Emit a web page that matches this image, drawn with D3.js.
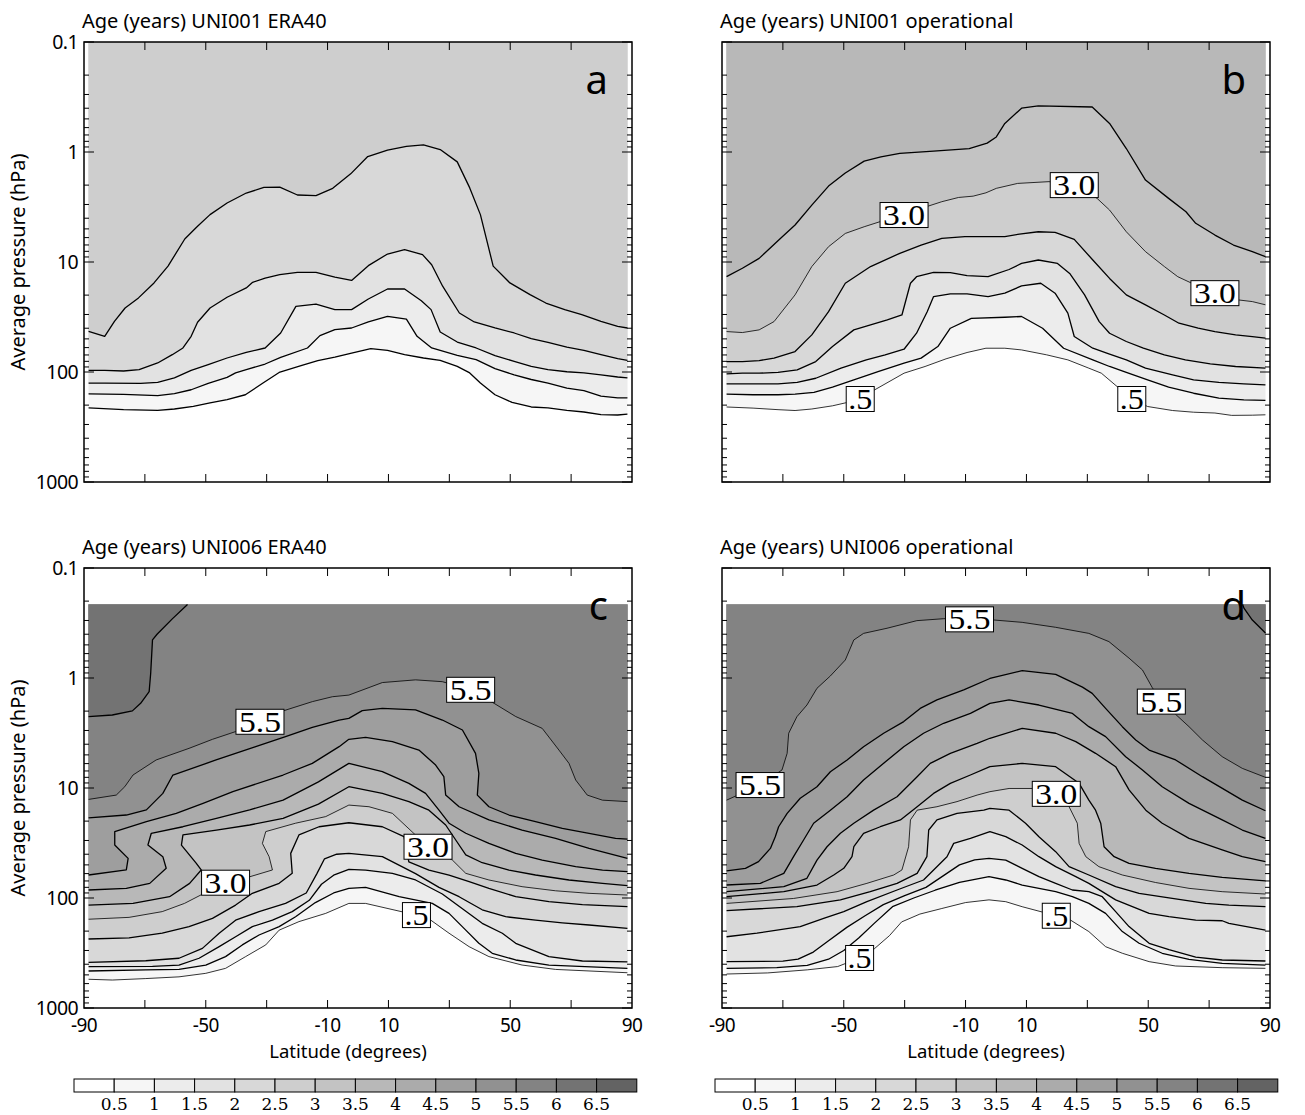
<!DOCTYPE html>
<html>
<head>
<meta charset="utf-8">
<script src="https://cdn.jsdelivr.net/npm/d3@7"></script>
<style>
  body { margin: 0; background: #fff; }
  svg { display: block; }
</style>
</head>
<body>
<div id="chart"></div>
<script>
// grey shades of the 14 colour-bar boxes (<0.5 ... >6.5 years)
const COLORS = ['#ffffff','#f6f6f6','#ececec','#e2e2e2','#d8d8d8','#cecece','#c3c3c3',
                '#b8b8b8','#ababab','#9e9e9e','#919191','#838383','#737373','#636363'];
const CB_LABELS = ['0.5','1','1.5','2','2.5','3','3.5','4','4.5','5','5.5','6','6.5'];
const Y_TICKS = [0.1, 1, 10, 100, 1000];
const Y_LABELS = ['0.1', '1', '10', '100', '1000'];
const X_TICKS = [-70, -50, -30, -10, 10, 30, 50, 70];
const X_LABELS = [-90, -50, -10, 10, 50, 90];

// contour lines, [latitude, pressure hPa]
// panel a: UNI001 ERA40
const a05 = [[-88.5,212],[-77.0,220],[-65.8,223],[-60.3,217],[-54.1,205],[-48.6,191],[-43.0,178],[-37.0,161],[-31.2,126],[-25.9,101],[-18.7,87.5],[-13.2,78.9],[-7.6,73.1],[-2.1,67.2],[4.2,61.4],[9.7,63.5],[15.3,69.6],[21.5,74.6],[27.0,78.3],[32.6,88.8],[36.7,102],[40.2,126],[45.0,161],[50.6,189],[56.9,208],[62.4,212],[68.6,223],[74.2,231],[79.8,244],[85.3,246],[88.5,242]];
const a10 = [[-88.5,158],[-77.0,160],[-65.8,164],[-60.3,157],[-54.8,145],[-49.2,127],[-43.0,112],[-40.2,102],[-36.7,95.3],[-30.5,84.6],[-25.4,73.6],[-16.6,60.5],[-12.5,46.7],[-7.6,41.2],[-2.1,39.8],[3.4,35.1],[9.7,31.2],[15.9,33.0],[19.4,47.4],[24.2,60.5],[32.6,70.5],[38.8,77.2],[45.0,93.3],[51.3,106],[56.9,117],[62.4,126],[68.6,140],[74.2,148],[79.8,166],[85.3,172],[88.5,172]];
const a15 = [[-88.5,126],[-83.2,126],[-71.4,127],[-65.8,124],[-60.3,113],[-54.8,96.6],[-49.2,85.8],[-43.0,74.6],[-36.7,66.3],[-30.5,60.5],[-25.4,44.2],[-20.4,25.3],[-13.8,24.1],[-7.6,27.1],[-2.1,27.1],[3.4,21.7],[9.7,17.6],[15.3,17.6],[20.8,22.5],[24.0,27.1],[27.0,43.3],[32.6,53.4],[38.8,60.5],[45.0,71.1],[51.3,80.0],[56.9,88.8],[62.4,95.3],[68.6,99.5],[74.2,102],[79.8,106],[85.3,111],[88.5,113]];
const a20 = [[-88.5,96.6],[-83.2,96.6],[-77.0,97.9],[-71.9,95.3],[-65.8,82.8],[-61.0,69.6],[-57.5,60.5],[-54.8,47.4],[-52.7,35.3],[-48.6,26.2],[-43.0,20.9],[-36.7,17.2],[-34.6,15.3],[-30.5,14.0],[-25.7,13.0],[-19.9,12.4],[-13.8,12.4],[-7.6,13.7],[-2.1,14.7],[3.4,10.8],[9.7,8.46],[15.3,7.72],[21.2,8.58],[24.2,10.6],[27.8,16.6],[33.3,29.1],[38.2,35.1],[45.0,39.8],[51.3,44.2],[56.9,49.8],[62.4,53.7],[68.6,59.3],[74.2,63.5],[79.8,69.6],[85.3,75.6],[88.5,78.3]];
const a25 = [[-88.5,42.7],[-83.2,47.4],[-80.0,34.6],[-76.5,26.2],[-72.1,21.2],[-67.0,15.5],[-62.4,10.9],[-56.9,6.18],[-52.7,4.74],[-48.6,3.71],[-43.0,2.91],[-36.7,2.36],[-30.9,2.10],[-25.7,2.09],[-19.9,2.46],[-13.8,2.49],[-8.3,2.14],[-2.4,1.58],[3.2,1.10],[9.7,0.96],[15.9,0.89],[21.5,0.86],[27.0,0.95],[32.6,1.23],[36.7,2.12],[40.2,3.71],[44.4,10.9],[49.9,15.5],[56.5,19.8],[61.7,23.6],[67.9,27.1],[73.5,30.1],[79.8,34.6],[85.3,38.5],[88.5,39.8]];

// panel b: UNI001 operational
const b05 = [[-88.5,208],[-79.8,213],[-71.6,220],[-66.0,224],[-60.5,217],[-53.7,203],[-48.8,189],[-44.6,176],[-39.8,145],[-30.2,102.5],[-23.3,89.1],[-16.4,75.9],[-9.5,66.5],[-3.3,60.8],[2.9,60.8],[8.4,63.0],[16.6,69.8],[23.6,77.6],[30.5,92.3],[34.6,102.5],[44.6,176],[49.8,206],[58.0,224],[64.9,232],[71.9,236],[77.4,248],[84.2,247],[88.5,245]];
const b10 = [[-88.5,159],[-79.8,161],[-71.6,161],[-66.0,159],[-59.8,153],[-53.7,137],[-46.7,118],[-38.5,98.9],[-30.2,83.2],[-24.6,74.8],[-19.1,58.7],[-15.0,40.0],[-8.1,32.5],[2.9,31.8],[8.4,31.3],[15.3,40.0],[22.2,60.8],[31.8,77.6],[37.3,89.1],[42.8,101],[49.8,118],[56.7,137],[64.9,156],[73.2,173],[81.4,179],[88.5,181]];
const b15 = [[-88.5,128],[-79.8,128],[-71.6,128],[-65.3,124],[-59.2,114],[-50.9,92.3],[-42.6,77.6],[-36.4,69.8],[-30.2,62.1],[-26.1,44.4],[-22.6,28.3],[-20.5,20.6],[-15.0,19.5],[-9.5,19.5],[-2.6,20.6],[2.9,19.2],[8.4,16.5],[14.7,15.6],[19.4,19.2],[23.6,29.2],[25.7,47.6],[31.8,60.8],[37.3,68.9],[42.8,77.6],[49.1,92.3],[58.0,106],[64.9,118],[73.2,124],[81.4,128],[88.5,131]];
const b20 = [[-88.5,104],[-83.3,102.5],[-77.8,102.5],[-71.6,101],[-65.3,95.5],[-59.2,80.4],[-53.7,58.7],[-46.7,41.4],[-41.2,37.3],[-35.7,33.6],[-30.9,30.3],[-28.1,15.6],[-26.1,13.6],[-20.5,12.4],[-15.0,12.5],[-9.5,13.3],[-2.6,13.6],[4.3,11.7],[8.4,10.3],[13.9,9.59],[20.2,10.3],[24.2,12.7],[29.1,19.9],[33.9,34.8],[37.3,44.4],[42.8,52.8],[48.4,60.8],[55.3,69.8],[62.2,77.6],[70.4,84.3],[78.7,89.1],[88.5,92.3]];
const b25 = [[-88.5,80.4],[-83.3,80.4],[-77.8,78.7],[-72.9,74.8],[-66.0,65.2],[-60.5,46.0],[-55.0,28.3],[-49.5,15.6],[-41.2,11.0],[-31.6,8.34],[-24.6,7.01],[-17.8,6.10],[-10.2,5.89],[2.9,5.89],[7.7,5.57],[13.9,5.31],[19.4,5.38],[25.7,6.23],[31.8,9.59],[37.3,14.1],[42.8,19.9],[49.1,24.5],[55.3,30.3],[60.1,36.0],[66.4,40.0],[71.9,42.9],[78.7,46.0],[84.2,47.6],[88.5,49.3]];
const b30 = [[-88.5,42.9],[-83.3,43.8],[-77.8,41.4],[-72.9,34.8],[-66.0,19.9],[-60.5,11.0],[-55.0,7.26],[-49.5,5.5],[-43.3,4.78],[-38.1,4.30],[-30.2,3.74],[-22.2,3.10],[-17.8,2.83],[-12.3,2.59],[-7.5,2.52],[-3.3,2.35],[0.1,2.14],[7.1,1.93],[17.4,1.86],[25.7,2.0],[33.2,2.64],[37.3,3.37],[42.8,5.31],[49.1,8.05],[55.3,11.0],[59.7,13.6],[64.3,15.6],[71.9,19.2],[79.5,22.1],[84.2,22.9],[88.5,24.5]];
const b35 = [[-88.5,13.6],[-83.3,11.4],[-77.8,9.27],[-70.2,5.89],[-66.0,4.61],[-60.5,3.04],[-55.0,2.04],[-49.5,1.55],[-43.3,1.21],[-37.8,1.11],[-31.6,1.03],[-20.5,0.98],[-8.8,0.93],[-2.9,0.83],[0.1,0.73],[2.9,0.55],[8.4,0.40],[13.9,0.38],[31.6,0.39],[37.3,0.55],[42.8,0.93],[49.1,1.80],[56.7,2.64],[62.4,3.49],[65.6,4.45],[71.9,5.69],[78.0,7.01],[84.2,8.05],[88.5,8.95]];

// panel c: UNI006 ERA40
const c05 = [[-88.5,548],[-80.7,557],[-69.7,540],[-58.8,521],[-50,484],[-43.5,436],[-36.9,341],[-30.3,267],[-25.9,196],[-19.4,164],[-10.6,138],[-3,112],[2.5,112],[19.2,143],[23.9,159],[29.9,209],[36.5,277],[43.0,341],[53.9,407],[64.9,446],[88.5,478]];
const c10 = [[-88.5,461],[-69.7,451],[-58.8,446],[-50,407],[-43.5,341],[-38,267],[-32.5,217],[-25.9,182],[-20.5,148],[-14,110],[-8,90],[-3,81.7],[2.5,80.0],[13.5,97.3],[24.4,112],[29.9,138],[35.4,196],[39.7,258],[44.1,318],[51.8,366],[62.7,407],[88.5,436]];
const c15 = [[-88.5,421],[-67.5,418],[-58.8,407],[-52.2,353],[-45.6,277],[-40.2,225],[-34.7,182],[-28.1,159],[-21.6,133],[-16,105],[-12,75],[-8,62],[-3,54.9],[2.5,55.7],[11.3,59.7],[18.9,68.6],[27.7,92],[34.3,125],[40.8,170],[47.4,209],[51.8,258],[62.7,341],[73.7,374],[88.5,380]];
const c20 = [[-88.5,384],[-69.7,372],[-58.8,353],[-51.1,287],[-45.6,209],[-40.2,159],[-32.5,133],[-23.8,112],[-17,90],[-13.5,60],[-11,44],[-7,40],[-3,39.3],[8.0,42.1],[18.9,60],[26.6,80],[33.2,97.3],[40.8,128],[48.5,148],[58.3,159],[67.1,168],[75.9,176],[88.5,189]];
const c25 = [[-88.5,236],[-75.2,230],[-64.3,209],[-55.5,182],[-47.8,153],[-40.2,116],[-34.7,90.7],[-25.9,73.6],[-21.6,59.7],[-22.1,39.3],[-19.4,26.7],[-12.8,22.5],[-3.0,20.7],[8.0,22.5],[15.1,27.7],[16.7,47],[23.3,55.7],[29.9,61.8],[36.5,71],[43.0,81.7],[51.8,97.3],[62.7,108],[73.7,115],[88.5,120]];
const c30 = [[-88.5,156],[-75.2,150],[-64.3,133],[-57,112],[-51,92],[-43.5,72.6],[-35.8,64.4],[-28.1,55.6],[-29.2,42.1],[-31.4,31.9],[-30.3,24.9],[-20.5,20.9],[-10.6,18.2],[-3.0,14.3],[3.6,14.8],[11.3,17.0],[23.0,34.2],[31.0,45.2],[35.4,59.7],[43.0,68.6],[53.9,78.9],[64.9,86],[75.9,90.7],[88.5,94.0]];
const c35 = [[-88.5,116],[-73.9,112],[-61.9,97.3],[-55.3,73.6],[-51.5,55.6],[-53.1,48.4],[-58.0,33.0],[-57.5,26.7],[-46.5,24.1],[-35.6,21.7],[-24.6,18.9],[-13,14],[-3.0,9.73],[8.0,11.2],[16.7,13.3],[23.3,15.9],[28.8,21.7],[32.1,29.7],[35.4,40.6],[40.8,47.8],[49.6,55.7],[58.3,61.8],[69.3,68.6],[80.3,73.6],[88.5,77.2]];
const c40 = [[-88.5,84.6],[-76.1,81.7],[-68.4,73.6],[-63.0,53.7],[-64.1,42.1],[-69.0,33.0],[-67.9,25.8],[-57.5,22.5],[-46.5,18.9],[-35.6,15.8],[-24.6,12.9],[-13,8.8],[-3.0,5.97],[8.0,7.10],[16.7,9.07],[22.2,11.2],[26.6,15.9],[29.9,20.9],[35.4,25.8],[43.0,31.9],[51.8,39.3],[60.5,45.2],[71.5,51.9],[80.3,55.7],[88.5,57.6]];
const c45 = [[-88.5,61.8],[-76.1,55.6],[-75.5,43.6],[-79.9,33.0],[-79.9,24.9],[-69.5,20.2],[-59.7,17.0],[-50.9,13.8],[-41.1,10.8],[-24.6,7.62],[-15.0,5.97],[-6.2,4.21],[-3.0,3.61],[2.5,3.46],[11.3,3.79],[20.0,4.52],[25.5,6.18],[28.2,7.89],[28.8,11.6],[33.2,14.8],[43.0,19.5],[53.9,24.1],[64.9,28.7],[75.9,35.4],[88.5,43.6]];
const c50 = [[-88.5,18.7],[-76.1,17.6],[-69.5,15.8],[-64.1,11.2],[-60.8,7.62],[-46.6,5.56],[-33.6,4.21],[-23.8,3.41],[-15.0,2.81],[-6.2,2.41],[-3.0,2.33],[1.4,1.98],[8.0,1.89],[18.9,1.95],[27.7,2.41],[34.3,2.97],[38.6,4.84],[39.7,7.36],[39.2,11.6],[43.0,14.8],[49.6,17.6],[58.3,20.2],[67.1,23.3],[75.9,25.8],[84.6,28.7],[88.5,29.1]];
const c55 = [[-88.5,12.7],[-79.4,11.6],[-76.6,9.73],[-73.9,7.62],[-66.3,5.56],[-55.5,4.36],[-47.8,3.61],[-40.2,3.07],[-32.2,2.50],[-24.3,1.98],[-15.0,1.64],[-8.4,1.48],[-3.0,1.43],[8.0,1.10],[18.9,1.04],[27.7,1.08],[37.0,1.28],[44.7,1.70],[51.8,2.24],[60.5,2.87],[66.0,4.52],[69.3,5.97],[71.5,8.46],[75.3,11.6],[80.3,12.9],[88.5,13.3]];
const c60 = [[-88.5,2.24],[-80.7,2.17],[-74.1,1.99],[-71.4,1.70],[-68.6,1.33],[-68.1,0.91],[-67.5,0.45],[-66,0.40],[-61,0.29],[-56,0.215]];

// panel d: UNI006 operational
const d05 = [[-88.5,491],[-75,480],[-62,450],[-52,420],[-44.8,351],[-40,290],[-35,220],[-31,165],[-25,140],[-18,125],[-10,110],[-2.3,104],[3.2,108],[8.6,120],[19.8,145],[24.5,159],[30.5,202],[36.0,277],[41.5,318],[50.3,379],[59.0,415],[74.3,430],[88.5,436]];
const d10 = [[-88.5,436],[-72,430],[-62,410],[-55,360],[-50,300],[-45,230],[-40,170],[-34,120],[-27,100],[-20,85],[-12,72],[-2.3,64],[3.2,68.6],[8.6,76.2],[19.6,87.6],[25.1,97.3],[30.5,112],[36.0,138],[41.5,202],[47.0,258],[54.6,318],[63.4,361],[74.3,393],[88.5,407]];
const d15 = [[-88.5,379],[-70,375],[-65,360],[-60,310],[-55,245],[-49,185],[-43,145],[-37,115],[-30,95],[-23,80],[-17,62],[-12,50],[-7,45],[-2.3,43.6],[3.2,45.2],[8.6,53.7],[14.1,64.0],[19.6,73.6],[25.1,84.6],[30.5,87.6],[34.9,97.3],[39.3,133],[43.7,182],[50.3,258],[56.8,295],[65.6,345],[74.3,366],[88.5,374]];
const d20 = [[-88.5,225],[-78.5,209],[-64.3,182],[-56.6,153],[-50.0,133],[-42.4,108],[-32.5,84.6],[-23.8,68.6],[-16.1,42.1],[-13.9,31.9],[-8.4,28.7],[-2.0,24.9],[3.2,27.7],[8.6,33.0],[14.1,42.1],[19.6,51.9],[26.2,64.0],[30.5,73.6],[39.3,104],[44.8,120],[50.3,138],[56.8,148],[65.6,159],[74.3,161],[76.5,170],[88.5,196]];
const d25 = [[-88.5,130],[-65.4,120],[-51.1,104],[-41.3,87.6],[-32.5,73.6],[-25.9,59.7],[-22.7,42.1],[-22.1,24.1],[-19.4,19.5],[-12.8,17.0],[-4.0,15.9],[-2.0,15.3],[4.3,15.9],[9.7,20.9],[14.1,27.7],[19.6,37.9],[24.0,51.9],[30.5,61.8],[39.3,78.9],[47.0,90.7],[57.9,101],[68.9,112],[76.5,116],[88.5,120]];
const d30 = [[-88.5,112],[-66.5,101],[-52.2,87.6],[-42.4,73.6],[-33.6,61.8],[-30.9,55.6],[-28.7,34.2],[-28.1,19.5],[-25.9,15.9],[-19.4,14.8],[-12.8,13.3],[-6.2,11.6],[-2.0,10.8],[4.3,10.1],[11.9,10.1],[19.8,11.3],[24.0,14.8],[26.7,20.9],[27.3,31.9],[29.5,42.1],[33.8,51.9],[41.5,61.8],[52.4,72.3],[63.4,81.7],[74.3,87.6],[88.5,92.0]];
const d35 = [[-88.5,97.3],[-69.7,87.6],[-58.8,76.2],[-53.3,61.8],[-50.0,53.7],[-47.3,42.1],[-46.7,34.2],[-43.5,25.8],[-38.0,22.5],[-31.4,19.5],[-25.9,14.8],[-20.5,11.2],[-15.0,9.07],[-8.4,7.62],[-2.0,6.40],[8.6,5.97],[19.6,6.40],[27.3,9.07],[30.5,12.9],[32.7,15.9],[34.4,20.9],[35.5,34.2],[38.8,42.1],[43.7,48.4],[52.4,53.7],[63.4,59.7],[74.3,64.9],[88.5,70.0]];
const d40 = [[-88.5,87.6],[-69.7,78.9],[-62.1,66.2],[-58.8,45.2],[-55.5,34.2],[-51.1,25.8],[-46.7,20.9],[-40.2,15.9],[-32.5,12.0],[-25.9,7.89],[-21.6,5.97],[-15.0,4.84],[-6.2,3.93],[-2.0,3.53],[8.6,2.87],[19.6,3.18],[26.2,3.79],[32.7,4.84],[39.3,6.40],[43.7,10.4],[49.2,15.9],[54.6,20.9],[63.4,28.7],[74.3,36.6],[80.9,42.1],[88.5,46.7]];
const d45 = [[-88.5,76.2],[-77.4,73.6],[-69.7,59.7],[-66.5,42.1],[-63.2,29.7],[-59.9,20.9],[-54.4,15.9],[-48.9,12.0],[-43.5,8.46],[-36.9,5.97],[-30.3,4.21],[-23.8,3.18],[-17.2,2.58],[-8.4,2.10],[-2.0,1.70],[4.3,1.58],[14.1,1.76],[25.1,2.10],[30.5,2.77],[36.0,3.41],[42.6,5.19],[48.1,6.86],[54.6,9.73],[63.4,13.8],[74.3,19.5],[80.9,24.1],[88.5,28.7]];
const d50 = [[-88.5,56.8],[-82.3,53.7],[-78.0,46.7],[-74.1,35.4],[-72.5,27.7],[-71.4,22.5],[-68.6,17.0],[-64.3,12.4],[-58.8,9.73],[-54.4,7.11],[-48.9,5.56],[-43.5,4.21],[-36.9,3.18],[-30.3,2.49],[-24.9,1.89],[-19.4,1.58],[-10.6,1.28],[-2.0,1.01],[8.6,0.857],[19.6,0.927],[28.4,1.21],[31.6,1.38],[36.0,1.89],[41.5,2.77],[45.9,3.66],[50.3,4.52],[59.0,5.56],[67.8,7.89],[80.9,12.9],[88.5,16.1]];
const d55 = [[-88.5,12.9],[-77.5,9.40],[-70.3,6.86],[-68.6,4.84],[-68.1,3.18],[-65.4,2.25],[-62.1,1.76],[-58.8,1.24],[-54.4,0.958],[-49.5,0.686],[-46.7,0.451],[-43.5,0.393],[-35.8,0.353],[-26.0,0.301],[-17.2,0.289],[-8.7,0.293],[-0.66,0.297],[8.6,0.312],[19.6,0.346],[30.5,0.393],[37.1,0.467],[43.7,0.66],[48.1,0.845],[51.3,1.22],[54.3,1.64],[59.0,2.14],[63.4,2.77],[67.8,3.66],[74.3,5.19],[80.9,6.63],[88.5,8.00]];
const d60 = [[81,0.215],[81.5,0.233],[84.2,0.297],[88.5,0.39]];

// inline contour labels [text, latitude, pressure]
const bLabels = [['3.0',-30.2,3.74],['3.0',25.7,2.0],['3.0',71.9,19.2],['.5',-44.6,176],['.5',44.6,176]];
const cLabels = [['5.5',-32.2,2.50],['5.5',37.0,1.28],['3.0',-43.5,72.6],['3.0',23.0,34.2],['.5',19.2,143]];
const dLabels = [['5.5',-77.5,9.40],['5.5',-8.7,0.293],['5.5',54.3,1.64],['3.0',19.8,11.3],['.5',-44.8,351],['.5',19.8,145]];

const W = 548, H = 440;
const SANS = "'Noto Sans', 'Open Sans', sans-serif";
const SERIF = "'Liberation Serif', 'DejaVu Serif', serif";

const panels = [
  { title: 'Age (years) UNI001 ERA40', letter: 'a', x0: 84, y0: 42, pTop: 0.1, left: true, bottom: false,
    lines: [[0.5, a05], [1, a10], [1.5, a15], [2, a20], [2.5, a25]], thin: [], labels: [] },
  { title: 'Age (years) UNI001 operational', letter: 'b', x0: 722, y0: 42, pTop: 0.1, left: false, bottom: false,
    lines: [[0.5, b05], [1, b10], [1.5, b15], [2, b20], [2.5, b25], [3, b30], [3.5, b35]], thin: [0.5, 3], labels: bLabels },
  { title: 'Age (years) UNI006 ERA40', letter: 'c', x0: 84, y0: 568, pTop: 0.215, left: true, bottom: true,
    lines: [[0.5, c05], [1, c10], [1.5, c15], [2, c20], [2.5, c25], [3, c30], [3.5, c35], [4, c40], [4.5, c45], [5, c50], [5.5, c55], [6, c60]],
    thin: [0.5, 3, 5.5], labels: cLabels },
  { title: 'Age (years) UNI006 operational', letter: 'd', x0: 722, y0: 568, pTop: 0.215, left: false, bottom: true,
    lines: [[0.5, d05], [1, d10], [1.5, d15], [2, d20], [2.5, d25], [3, d30], [3.5, d35], [4, d40], [4.5, d45], [5, d50], [5.5, d55], [6, d60]],
    thin: [0.5, 3, 5.5], labels: dLabels }
];

const svg = d3.select('#chart').append('svg')
  .attr('width', 1305).attr('height', 1115)
  .style('font-family', SANS);

function drawPanel(P) {
  const x = d3.scaleLinear().domain([-90, 90]).range([P.x0, P.x0 + W]);
  const y = d3.scaleLog().domain([0.1, 1000]).range([P.y0, P.y0 + H]);
  const g = svg.append('g');
  const line = d3.line().x(d => x(d[0])).y(d => y(d[1]));

  // filled bands: everything above each contour gets the next shade
  P.lines.forEach(([lev, pts]) => {
    const poly = pts.concat([[pts[pts.length - 1][0], P.pTop], [pts[0][0], P.pTop]]);
    g.append('path')
      .attr('d', line(poly) + 'Z')
      .attr('fill', COLORS[Math.round(lev * 2)]);
  });

  // contour lines
  P.lines.forEach(([lev, pts]) => {
    g.append('path')
      .attr('d', line(pts))
      .attr('fill', 'none')
      .attr('stroke', '#000')
      .attr('stroke-width', P.thin.includes(lev) ? 0.8 : 1.3)
      .attr('stroke-linejoin', 'round');
  });

  // inline labels
  P.labels.forEach(([txt, lat, p]) => {
    const cx = x(lat), cy = y(p);
    const bw = txt.length === 2 ? 28 : 48;
    const lg = g.append('g');
    lg.append('rect')
      .attr('x', cx - bw / 2).attr('y', cy - 12.5)
      .attr('width', bw).attr('height', 25)
      .attr('fill', '#fff').attr('stroke', '#000').attr('stroke-width', 1);
    lg.append('text')
      .attr('x', cx).attr('y', cy + 10)
      .attr('text-anchor', 'middle')
      .attr('font-family', SERIF)
      .attr('font-size', 29)
      .attr('textLength', txt.length === 2 ? 24 : 42)
      .attr('lengthAdjust', 'spacingAndGlyphs')
      .text(txt);
  });

  // frame
  g.append('rect')
    .attr('x', P.x0).attr('y', P.y0).attr('width', W).attr('height', H)
    .attr('fill', 'none').attr('stroke', '#000').attr('stroke-width', 1.5);

  // y ticks (inward, both sides)
  const minor = [];
  [0.1, 1, 10, 100].forEach(dec => d3.range(2, 10).forEach(m => minor.push(m * dec)));
  const ticks = g.append('g').attr('stroke', '#000').attr('stroke-width', 1);
  Y_TICKS.forEach(v => {
    ticks.append('line').attr('x1', P.x0).attr('x2', P.x0 + 10).attr('y1', y(v)).attr('y2', y(v));
    ticks.append('line').attr('x1', P.x0 + W).attr('x2', P.x0 + W - 10).attr('y1', y(v)).attr('y2', y(v));
  });
  minor.forEach(v => {
    ticks.append('line').attr('x1', P.x0).attr('x2', P.x0 + 5).attr('y1', y(v)).attr('y2', y(v));
    ticks.append('line').attr('x1', P.x0 + W).attr('x2', P.x0 + W - 5).attr('y1', y(v)).attr('y2', y(v));
  });
  X_TICKS.forEach(v => {
    ticks.append('line').attr('x1', x(v)).attr('x2', x(v)).attr('y1', P.y0).attr('y2', P.y0 + 8);
    ticks.append('line').attr('x1', x(v)).attr('x2', x(v)).attr('y1', P.y0 + H).attr('y2', P.y0 + H - 8);
  });

  if (P.left) {
    Y_TICKS.forEach((v, i) => {
      g.append('text')
        .attr('x', P.x0 - 6).attr('y', y(v) + 7)
        .attr('text-anchor', 'end').attr('font-size', 19.5)
        .attr('letter-spacing', -0.6)
        .text(Y_LABELS[i]);
    });
    g.append('text')
      .attr('transform', `translate(25,${P.y0 + H / 2}) rotate(-90)`)
      .attr('text-anchor', 'middle').attr('font-size', 20)
      .text('Average pressure (hPa)');
  }
  if (P.bottom) {
    X_LABELS.forEach(v => {
      g.append('text')
        .attr('x', x(v)).attr('y', P.y0 + H + 24)
        .attr('text-anchor', 'middle').attr('font-size', 19)
        .attr('letter-spacing', -0.6)
        .text(v);
    });
    g.append('text')
      .attr('x', P.x0 + W / 2 - 10).attr('y', P.y0 + H + 50)
      .attr('text-anchor', 'middle').attr('font-size', 18.5)
      .text('Latitude (degrees)');
  }

  // title and panel letter
  g.append('text')
    .attr('x', P.x0 - 2).attr('y', P.y0 - 14)
    .attr('font-size', 20)
    .text(P.title);
  g.append('text')
    .attr('x', P.x0 + W - 24).attr('y', P.y0 + 52)
    .attr('text-anchor', 'end').attr('font-size', 40)
    .text(P.letter);
}

panels.forEach(drawPanel);

// colour bars
function drawColorbar(x0) {
  const cb = d3.scaleLinear().domain([0, COLORS.length]).range([x0, x0 + 562.8]);
  const g = svg.append('g');
  g.selectAll('rect')
    .data(COLORS)
    .enter()
    .append('rect')
    .attr('x', (d, i) => cb(i)).attr('y', 1079)
    .attr('width', cb(1) - cb(0)).attr('height', 13)
    .attr('fill', d => d).attr('stroke', '#000').attr('stroke-width', 1);
  g.selectAll('text')
    .data(CB_LABELS)
    .enter()
    .append('text')
    .attr('x', (d, i) => cb(i + 1)).attr('y', 1110)
    .attr('text-anchor', 'middle')
    .attr('font-family', "'DejaVu Serif', serif").attr('font-size', 17)
    .text(d => d);
}
drawColorbar(74);
drawColorbar(715);
</script>
</body>
</html>
